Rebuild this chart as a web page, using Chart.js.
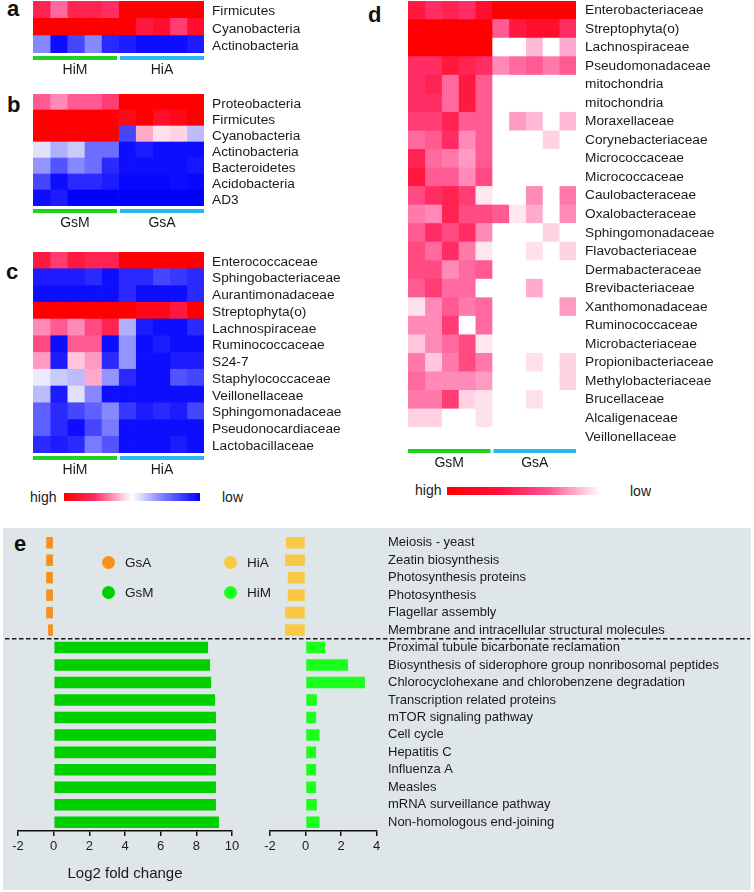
<!DOCTYPE html>
<html lang="en">
<head>
<meta charset="utf-8">
<title>Heatmaps and fold change</title>
<script src="https://cdn.jsdelivr.net/npm/chart.js"></script>
<style>
  body { margin: 0; width: 754px; height: 892px; position: relative; background: #fff; overflow: hidden;
         font-family: "Liberation Sans", Arial, sans-serif; color: #1a1a1a; }
  canvas { position: absolute; }
  .tag { position: absolute; font-weight: bold; font-size: 22px; line-height: 22px; color: #111; }
  .txt { position: absolute; font-size: 14px; line-height: 16px; white-space: nowrap; }
  .lg { font-size: 13.5px; }
  .grad { position: absolute; height: 8px; }
  .dot { position: absolute; width: 13px; height: 13px; border-radius: 50%; }
  #grey { position: absolute; left: 3px; top: 528px; width: 748px; height: 362px; background: #dfe6e9; }
</style>
</head>
<body>
<div id="grey"></div>

<div class="tag" style="left:7px;top:-2px">a</div>
<div class="tag" style="left:7px;top:94px">b</div>
<div class="tag" style="left:6px;top:261px">c</div>
<div class="tag" style="left:368px;top:4px">d</div>
<div class="tag" style="left:14px;top:533px">e</div>

<canvas id="heatA" width="307" height="82" style="left:33px;top:0px"></canvas>
<canvas id="heatB" width="307" height="142" style="left:33px;top:88px"></canvas>
<canvas id="heatC" width="321" height="238" style="left:33px;top:244px"></canvas>
<canvas id="heatD" width="346" height="478" style="left:408px;top:0px"></canvas>

<div class="txt" style="left:30px;top:489px">high</div>
<div class="grad" style="left:64px;top:493px;width:136px;background:linear-gradient(to right,#ff0000 0%,#ff2a60 22%,#ffffff 50%,#8080ff 72%,#0000ff 100%)"></div>
<div class="txt" style="left:222px;top:489px">low</div>

<div class="txt" style="left:415px;top:482px">high</div>
<div class="grad" style="left:447px;top:487px;width:153px;background:linear-gradient(to right,#ff0000 0%,#ff1040 35%,#ff5090 65%,#ffc0d8 88%,#ffffff 100%)"></div>
<div class="txt" style="left:630px;top:483px">low</div>

<canvas id="foldL" width="245" height="362" style="left:5px;top:528px"></canvas>
<canvas id="foldR" width="500" height="362" style="left:250px;top:528px"></canvas>

<div class="dot" style="left:102px;top:556px;background:#f7901e"></div>
<div class="txt lg" style="left:125px;top:555px">GsA</div>
<div class="dot" style="left:102px;top:586px;background:#00d000"></div>
<div class="txt lg" style="left:125px;top:585px">GsM</div>
<div class="dot" style="left:224px;top:556px;background:#fbc843"></div>
<div class="txt lg" style="left:247px;top:555px">HiA</div>
<div class="dot" style="left:224px;top:586px;background:#1cff1c"></div>
<div class="txt lg" style="left:247px;top:585px">HiM</div>

<script>
const FONT = "'Liberation Sans', Arial, sans-serif";
Chart.defaults.font.family = FONT;

// ---- panel a (HiM x5, HiA x5) ----
const aRows = ['Firmicutes', 'Cyanobacteria', 'Actinobacteria'];
const aGroups = ['HiM', 'HiA'];
const aValues = [
  [0.8, 0.55, 0.8, 0.8, 0.75, 1, 1, 1, 1, 1],
  [1, 1, 1, 1, 1, 1, 0.85, 0.9, 0.7, 0.9],
  [-0.5, -0.95, -0.75, -0.5, -0.85, -0.9, -0.95, -0.95, -0.95, -0.9]
];

// ---- panel b (GsM x5, GsA x5) ----
const bRows = ['Proteobacteria', 'Firmicutes', 'Cyanobacteria', 'Actinobacteria', 'Bacteroidetes', 'Acidobacteria', 'AD3'];
const bGroups = ['GsM', 'GsA'];
const bValues = [
  [0.6, 0.45, 0.6, 0.6, 0.7, 1, 1, 1, 1, 1],
  [1, 1, 1, 1, 1, 0.95, 1, 0.9, 0.95, 1],
  [1, 1, 1, 1, 1, -0.75, 0.35, 0.15, 0.2, -0.3],
  [-0.15, -0.35, -0.25, -0.6, -0.6, -0.95, -0.9, -0.95, -0.95, -0.95],
  [-0.45, -0.7, -0.5, -0.6, -0.85, -0.95, -0.95, -0.95, -0.95, -0.92],
  [-0.75, -0.95, -0.85, -0.85, -0.9, -0.97, -0.97, -0.97, -0.95, -0.97],
  [-0.95, -0.9, -1, -1, -1, -1, -1, -1, -1, -1]
];

// ---- panel c (HiM x5, HiA x5) ----
const cRows = ['Enterococcaceae', 'Sphingobacteriaceae', 'Aurantimonadaceae', 'Streptophyta(o)', 'Lachnospiraceae',
  'Ruminococcaceae', 'S24-7', 'Staphylococcaceae', 'Veillonellaceae', 'Sphingomonadaceae', 'Pseudonocardiaceae', 'Lactobacillaceae'];
const cGroups = ['HiM', 'HiA'];
const cValues = [
  [0.85, 0.7, 0.85, 0.8, 0.8, 1, 1, 1, 1, 1],
  [-0.9, -0.9, -0.9, -0.85, -0.95, -0.85, -0.85, -0.75, -0.8, -0.85],
  [-0.95, -0.95, -0.95, -0.95, -0.95, -0.85, -0.95, -0.95, -0.95, -0.85],
  [1, 1, 1, 1, 1, 1, 0.95, 0.95, 0.85, 1],
  [0.45, 0.6, 0.45, 0.65, 0.8, -0.35, -0.9, -0.95, -0.95, -0.85],
  [0.65, -0.95, 0.6, 0.6, -0.95, -0.45, -0.95, -0.9, -0.95, -0.95],
  [0.4, -0.9, 0.25, 0.4, -0.85, -0.45, -0.95, -0.95, -0.9, -0.9],
  [-0.1, -0.25, -0.3, 0.35, -0.45, -0.85, -0.95, -0.95, -0.7, -0.75],
  [-0.3, -0.9, -0.15, -0.5, -0.95, -0.95, -0.95, -0.95, -0.95, -0.95],
  [-0.65, -0.85, -0.75, -0.65, -0.5, -0.8, -0.9, -0.85, -0.9, -0.75],
  [-0.65, -0.85, -0.95, -0.75, -0.55, -0.95, -0.95, -0.95, -0.95, -0.95],
  [-0.85, -0.9, -0.85, -0.55, -0.7, -0.95, -0.95, -0.95, -0.9, -0.95]
];

// ---- panel d (GsM x5, GsA x5), 0 = absent ----
const dRows = ['Enterobacteriaceae', 'Streptophyta(o)', 'Lachnospiraceae', 'Pseudomonadaceae', 'mitochondria', 'mitochondria',
  'Moraxellaceae', 'Corynebacteriaceae', 'Micrococcaceae', 'Micrococcaceae', 'Caulobacteraceae', 'Oxalobacteraceae',
  'Sphingomonadaceae', 'Flavobacteriaceae', 'Dermabacteraceae', 'Brevibacteriaceae', 'Xanthomonadaceae', 'Ruminococcaceae',
  'Microbacteriaceae', 'Propionibacteriaceae', 'Methylobacteriaceae', 'Brucellaceae', 'Alcaligenaceae', 'Veillonellaceae'];
const dGroups = ['GsM', 'GsA'];
const dValues = [
  [0.85, 0.75, 0.8, 0.75, 0.9, 1, 1, 1, 1, 1],
  [1, 1, 1, 1, 1, 0.6, 0.85, 0.9, 0.9, 0.75],
  [1, 1, 1, 1, 1, 0, 0, 0.3, 0, 0.35],
  [0.75, 0.75, 0.85, 0.8, 0.75, 0.45, 0.55, 0.6, 0.5, 0.6],
  [0.75, 0.8, 0.55, 0.85, 0.6, 0, 0, 0, 0, 0],
  [0.75, 0.75, 0.55, 0.85, 0.6, 0, 0, 0, 0, 0],
  [0.7, 0.7, 0.8, 0.6, 0.6, 0, 0.4, 0.3, 0, 0.3],
  [0.55, 0.6, 0.75, 0.45, 0.6, 0, 0, 0, 0.2, 0],
  [0.8, 0.55, 0.5, 0.4, 0.6, 0, 0, 0, 0, 0],
  [0.85, 0.6, 0.6, 0.45, 0.65, 0, 0, 0, 0, 0],
  [0.65, 0.75, 0.8, 0.7, 0.12, 0, 0, 0.45, 0, 0.5],
  [0.5, 0.45, 0.8, 0.65, 0.65, 0.6, 0.12, 0.35, 0, 0.45],
  [0.6, 0.75, 0.65, 0.75, 0.45, 0, 0, 0, 0.2, 0],
  [0.65, 0.55, 0.75, 0.5, 0.12, 0, 0, 0.15, 0, 0.2],
  [0.65, 0.65, 0.45, 0.55, 0.6, 0, 0, 0, 0, 0],
  [0.6, 0.7, 0.55, 0.55, 0, 0, 0, 0.35, 0, 0],
  [0.15, 0.45, 0.6, 0.5, 0.55, 0, 0, 0, 0, 0.4],
  [0.45, 0.45, 0.7, 0, 0.55, 0, 0, 0, 0, 0],
  [0.25, 0.45, 0.55, 0.65, 0.12, 0, 0, 0, 0, 0],
  [0.5, 0.25, 0.5, 0.65, 0.5, 0, 0, 0.15, 0, 0.2],
  [0.55, 0.45, 0.45, 0.45, 0.4, 0, 0, 0, 0, 0.2],
  [0.5, 0.5, 0.7, 0.2, 0.15, 0, 0, 0.15, 0, 0],
  [0.2, 0.2, 0, 0, 0.15, 0, 0, 0, 0, 0],
  [0, 0, 0, 0, 0, 0, 0, 0, 0, 0]
];

// ---- panel e ----
const topPaths = ['Meiosis - yeast', 'Zeatin biosynthesis', 'Photosynthesis proteins', 'Photosynthesis',
  'Flagellar assembly', 'Membrane and intracellular structural molecules'];
const bottomPaths = ['Proximal tubule bicarbonate reclamation', 'Biosynthesis of siderophore group nonribosomal peptides',
  'Chlorocyclohexane and chlorobenzene degradation', 'Transcription related proteins', 'mTOR signaling pathway',
  'Cell cycle', 'Hepatitis C', 'Influenza A', 'Measles', 'mRNA surveillance pathway', 'Non-homologous end-joining'];
const gsaFold = [-0.42, -0.42, -0.42, -0.42, -0.42, -0.31];
const gsmFold = [8.66, 8.77, 8.83, 9.05, 9.1, 9.1, 9.1, 9.1, 9.1, 9.1, 9.27];
const hiaFold = [-1.1, -1.15, -1.0, -1.0, -1.15, -1.15];
const himFold = [1.1, 2.4, 3.35, 0.64, 0.6, 0.79, 0.6, 0.6, 0.6, 0.64, 0.79];

const posStops = [[0, [255, 255, 255]], [0.15, [255, 225, 236]], [0.35, [255, 170, 205]], [0.55, [255, 105, 160]],
  [0.75, [255, 45, 100]], [0.9, [255, 15, 45]], [1, [255, 0, 0]]];
const negStops = [[0, [255, 255, 255]], [0.2, [215, 215, 250]], [0.5, [135, 135, 255]], [0.75, [70, 70, 255]], [1, [0, 0, 255]]];

function heatColor(v) {
  const stops = v >= 0 ? posStops : negStops;
  const t = Math.min(Math.abs(v), 1);
  for (let i = 1; i < stops.length; i++) {
    if (t <= stops[i][0]) {
      const [t0, c0] = stops[i - 1], [t1, c1] = stops[i];
      const f = (t - t0) / (t1 - t0);
      const c = c0.map((x, k) => Math.round(x + (c1[k] - x) * f));
      return 'rgb(' + c.join(',') + ')';
    }
  }
  return 'rgb(255,0,0)';
}

function groupBars(groups, nCol) {
  return {
    id: 'groupBars',
    afterDraw(chart) {
      const ctx = chart.ctx, x = chart.scales.x, area = chart.chartArea;
      const half = nCol / 2;
      const spans = [[0, half, '#1fd21f'], [half, nCol, '#2ab6ee']];
      ctx.save();
      spans.forEach(([s, e, col], i) => {
        const x1 = x.getPixelForValue(s) + (s > 0 ? 1.5 : 0);
        const x2 = x.getPixelForValue(e) - (e < nCol ? 1.5 : 0);
        ctx.fillStyle = col;
        ctx.fillRect(x1, area.bottom + 3, x2 - x1, 4);
        ctx.fillStyle = '#1a1a1a';
        ctx.font = '14px ' + FONT;
        ctx.textAlign = 'center';
        ctx.textBaseline = 'middle';
        ctx.fillText(groups[i], (x1 + x2) / 2, area.bottom + 17);
      });
      ctx.restore();
    }
  };
}

function heatmap(id, rows, values, groups, pad) {
  const nCol = values[0].length;
  const datasets = [];
  for (let c = 0; c < nCol; c++) {
    datasets.push({
      data: rows.map(() => 1),
      backgroundColor: values.map(r => heatColor(r[c])),
      borderWidth: 0,
      barPercentage: 1,
      categoryPercentage: 1
    });
  }
  new Chart(document.getElementById(id), {
    type: 'bar',
    data: { labels: rows, datasets: datasets },
    options: {
      indexAxis: 'y',
      responsive: false,
      animation: false,
      layout: { padding: { top: pad.top, bottom: pad.bottom, left: 0, right: 0 } },
      plugins: { legend: { display: false }, tooltip: { enabled: false } },
      scales: {
        x: { display: false, stacked: true, min: 0, max: nCol },
        y: {
          position: 'right', stacked: true,
          grid: { display: false, drawTicks: false },
          border: { display: false },
          ticks: { color: '#1a1a1a', font: { size: 13.7 }, padding: pad.label, labelOffset: pad.shift, autoSkip: false },
          afterFit: s => { s.width = pad.axis; s.paddingTop = 0; s.paddingBottom = 0; }
        }
      }
    },
    plugins: [groupBars(groups, nCol)]
  });
}

heatmap('heatA', aRows, aValues, aGroups, { top: 1, bottom: 29, label: 8, axis: 136, shift: 2 });
heatmap('heatB', bRows, bValues, bGroups, { top: 6, bottom: 24, label: 8, axis: 136, shift: 2 });
heatmap('heatC', cRows, cValues, cGroups, { top: 8, bottom: 29, label: 8, axis: 150, shift: 1.5 });
heatmap('heatD', dRows, dValues, dGroups, { top: 1, bottom: 32, label: 9, axis: 178, shift: 0 });

// dashed separator between the two blocks of pathways
const dashLine = {
  id: 'dashLine',
  afterDatasetsDraw(chart) {
    const y = chart.scales.y, ctx = chart.ctx;
    const n = topPaths.length;
    const py = (y.getPixelForValue(n - 1) + y.getPixelForValue(n)) / 2;
    ctx.save();
    ctx.strokeStyle = '#1a1a1a';
    ctx.lineWidth = 1.6;
    ctx.setLineDash([4.5, 2.5]);
    ctx.beginPath();
    ctx.moveTo(0, py);
    ctx.lineTo(chart.width, py);
    ctx.stroke();
    ctx.restore();
  }
};

const pathLabels = topPaths.concat(bottomPaths);
const blankTop = topPaths.map(() => null);
const blankBottom = bottomPaths.map(() => null);

function foldChart(id, aVals, mVals, aCol, mCol, xMax, showLabels, pad) {
  const xAxis = {
    min: -2, max: xMax, stacked: true,
    ticks: { stepSize: 2, color: '#1a1a1a', font: { size: 13 }, padding: 3 },
    grid: { display: true, drawOnChartArea: false, drawTicks: true, tickLength: 5, color: '#111', lineWidth: 1.5 },
    border: { display: true, color: '#111', width: 1.5 },
    title: { display: !showLabels, text: 'Log2 fold change', color: '#1a1a1a', font: { size: 15 }, padding: { top: 7, bottom: 0 } }
  };
  const yAxis = showLabels ? {
    position: 'right', stacked: true,
    grid: { display: false, drawTicks: false },
    border: { display: false },
    ticks: { color: '#1a1a1a', font: { size: 13 }, padding: 11.5, autoSkip: false },
    afterFit: s => { s.width = pad.axis; s.paddingTop = 0; s.paddingBottom = 0; }
  } : { display: false, stacked: true };
  new Chart(document.getElementById(id), {
    type: 'bar',
    data: {
      labels: pathLabels,
      datasets: [
        { data: aVals.concat(blankBottom), backgroundColor: aCol, borderWidth: 0, barPercentage: 0.66, categoryPercentage: 1 },
        { data: blankTop.concat(mVals), backgroundColor: mCol, borderWidth: 0, barPercentage: 0.66, categoryPercentage: 1 }
      ]
    },
    options: {
      indexAxis: 'y',
      responsive: false,
      animation: false,
      layout: { padding: { top: 6, bottom: pad.bottom, left: pad.left, right: pad.right } },
      plugins: { legend: { display: false }, tooltip: { enabled: false } },
      scales: { x: xAxis, y: yAxis }
    },
    plugins: [dashLine]
  });
}

foldChart('foldL', gsaFold, gsmFold, '#f7901e', '#00d000', 10, false, { left: 13, right: 18, bottom: 7.4 });
foldChart('foldR', hiaFold, himFold, '#fbc843', '#1cff1c', 4, true, { left: 20, right: 0, bottom: 32.4, axis: 373.5 });
</script>
</body>
</html>
